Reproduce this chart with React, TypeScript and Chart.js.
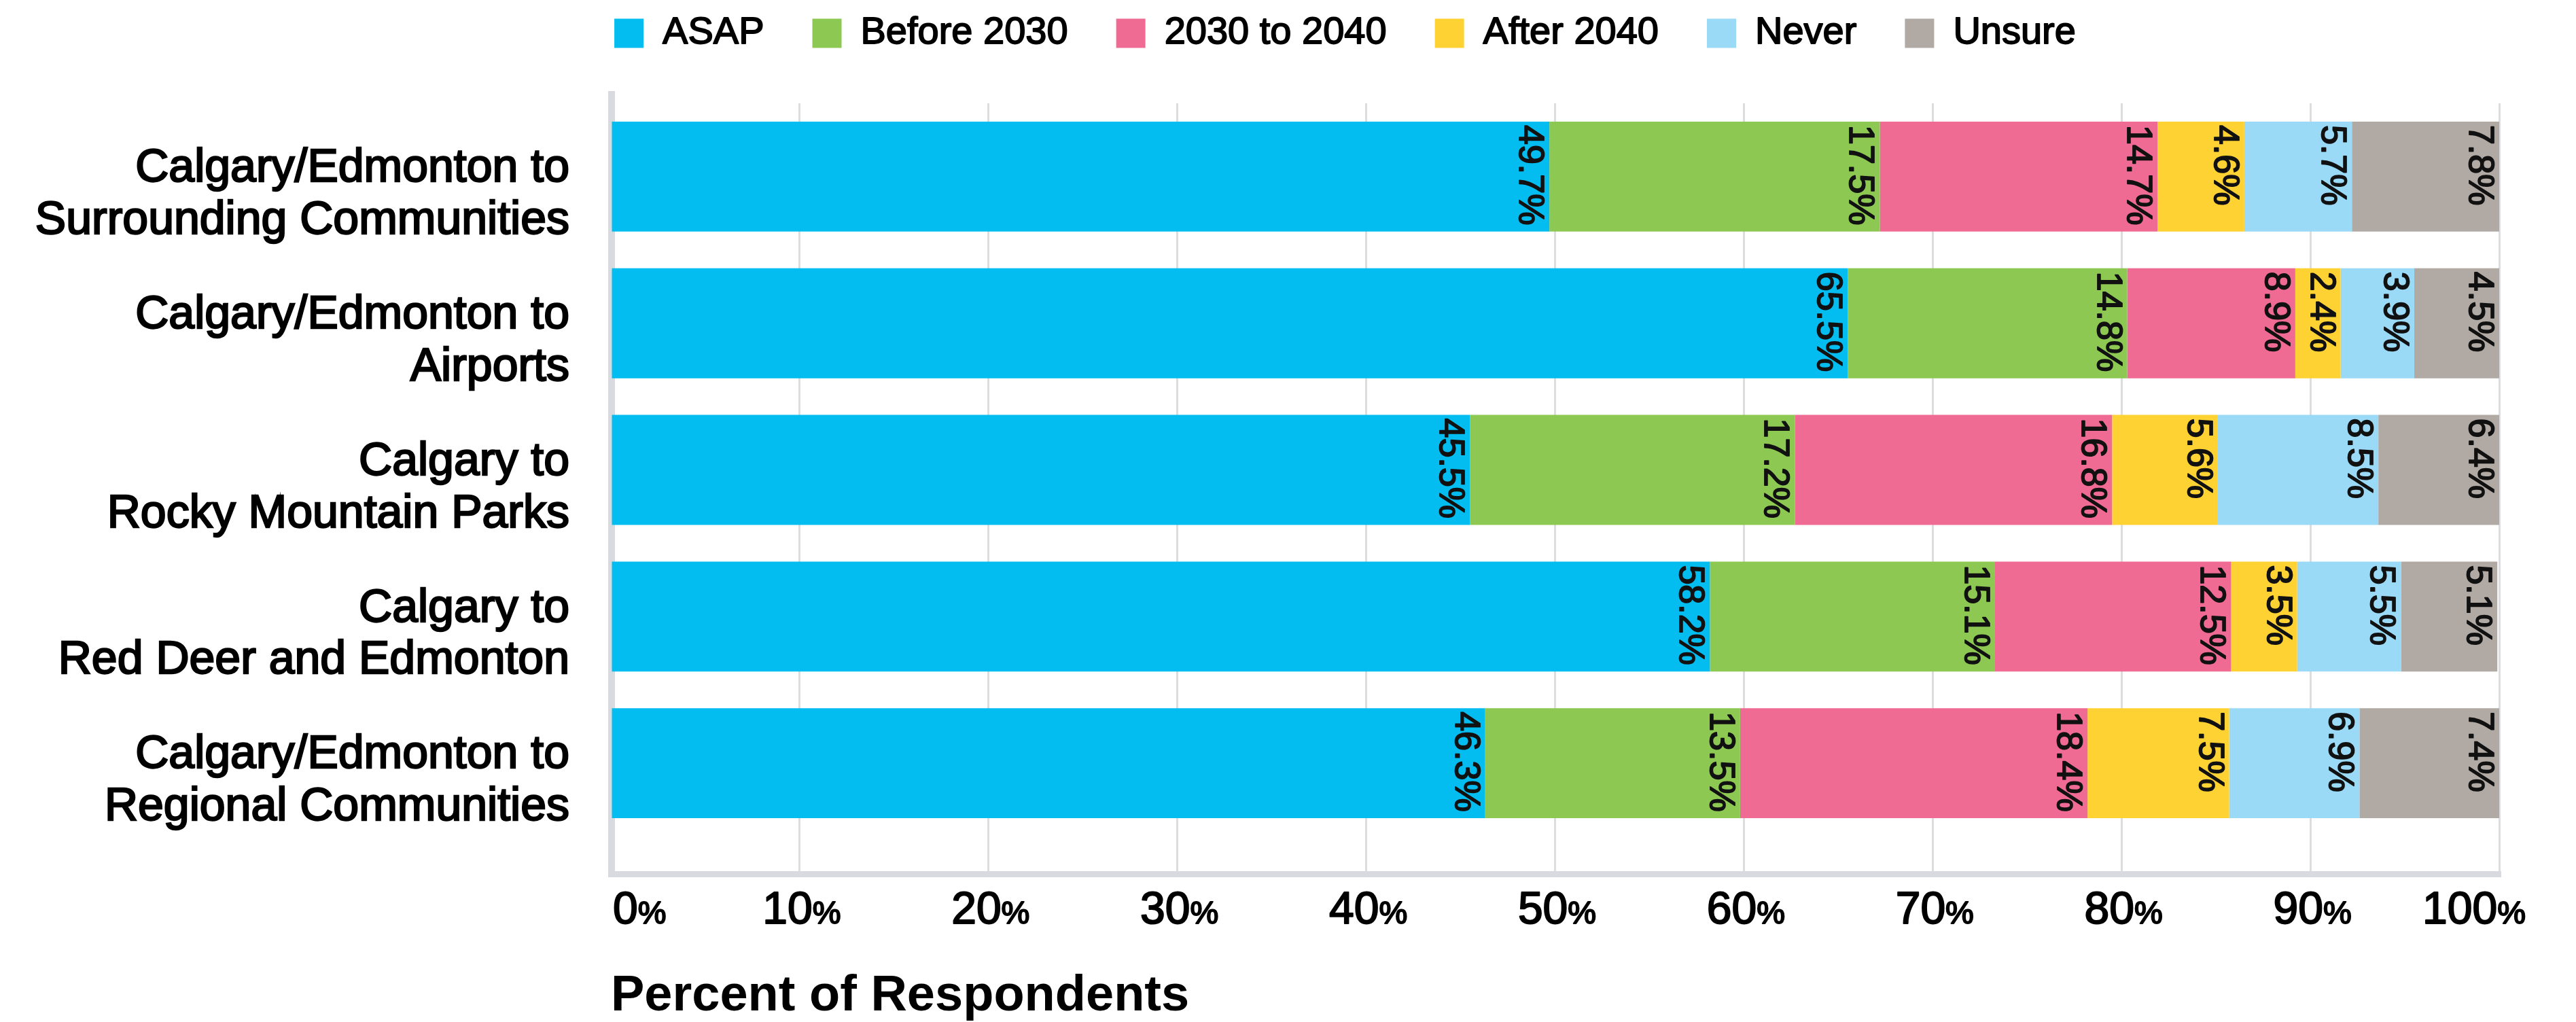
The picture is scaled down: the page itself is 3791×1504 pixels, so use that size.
import React, { useEffect, useRef } from 'react';
import { Chart, registerables } from 'chart.js';

Chart.register(...registerables);

// ---------- data ----------
const CATEGORIES: string[][] = [
  ['Calgary/Edmonton to', 'Surrounding Communities'],
  ['Calgary/Edmonton to', 'Airports'],
  ['Calgary to', 'Rocky Mountain Parks'],
  ['Calgary to', 'Red Deer and Edmonton'],
  ['Calgary/Edmonton to', 'Regional Communities'],
];
const SERIES_NAMES = ['ASAP', 'Before 2030', '2030 to 2040', 'After 2040', 'Never', 'Unsure'];
const ASAP = [49.7, 65.5, 45.5, 58.2, 46.3];
const BEFORE_2030 = [17.5, 14.8, 17.2, 15.1, 13.5];
const FROM_2030_TO_2040 = [14.7, 8.9, 16.8, 12.5, 18.4];
const AFTER_2040 = [4.6, 2.4, 5.6, 3.5, 7.5];
const NEVER = [5.7, 3.9, 8.5, 5.5, 6.9];
const UNSURE = [7.8, 4.5, 6.4, 5.1, 7.4];
const X_TICKS = [0, 10, 20, 30, 40, 50, 60, 70, 80, 90, 100];
const AXIS_TITLE = 'Percent of Respondents';

// ---------- styles ----------
const COLORS = ['#03BDF1', '#8DC852', '#F06B93', '#FFD234', '#9ADAF6', '#B1A9A4'];
const FONT = '"Liberation Sans", Arial, sans-serif';
const GRID = '#DCDCE1';
const AXIS = '#D9DADF';
const W = 3791;
const H = 1504;

const SERIES = [ASAP, BEFORE_2030, FROM_2030_TO_2040, AFTER_2040, NEVER, UNSURE];

// legend: fixed height + slightly heavier text (medium weight look)
const legendPatchPlugin = {
  id: 'legendPatch',
  beforeLayout(chart: any) {
    const lg: any = chart.legend;
    if (lg && !lg._patched) {
      const origFit = lg.fit;
      lg.fit = function () {
        origFit.call(this);
        this.height = 202;
      };
      const origDraw = lg.draw;
      lg.draw = function (...args: any[]) {
        const ctx = this.ctx;
        const origFill = ctx.fillText;
        ctx.fillText = function (t: string, x: number, y: number, mw?: number) {
          const lw = ctx.lineWidth;
          const ss = ctx.strokeStyle;
          ctx.lineWidth = 1.8;
          ctx.strokeStyle = ctx.fillStyle;
          ctx.lineJoin = 'round';
          if (mw !== undefined) ctx.strokeText(t, x, y, mw);
          else ctx.strokeText(t, x, y);
          ctx.lineWidth = lw;
          ctx.strokeStyle = ss;
          return mw !== undefined ? origFill.call(ctx, t, x, y, mw) : origFill.call(ctx, t, x, y);
        };
        try {
          origDraw.apply(this, args);
        } finally {
          ctx.fillText = origFill;
        }
      };
      lg._patched = true;
    }
  },
};

const axisLinesPlugin = {
  id: 'axisLines',
  beforeDatasetsDraw(chart: any) {
    const { ctx, chartArea } = chart;
    ctx.save();
    ctx.fillStyle = AXIS;
    ctx.fillRect(chartArea.left - 4, chartArea.top - 18, 10, chartArea.bottom + 60 - (chartArea.top - 18));
    ctx.fillRect(chartArea.left - 4, chartArea.bottom + 51, chartArea.right - chartArea.left + 7, 9);
    ctx.restore();
  },
};

const xTickPlugin = {
  id: 'xTickLabels',
  afterDraw(chart: any) {
    const { ctx, chartArea } = chart;
    const xs = chart.scales.x;
    const baseY = chartArea.bottom + 128;
    ctx.save();
    ctx.fillStyle = '#000';
    ctx.strokeStyle = '#000';
    ctx.lineWidth = 2;
    ctx.lineJoin = 'round';
    ctx.textBaseline = 'alphabetic';
    ctx.textAlign = 'left';
    const last = X_TICKS.length - 1;
    X_TICKS.forEach((v, i) => {
      const px = xs.getPixelForValue(v);
      const num = String(v);
      ctx.font = `66px ${FONT}`;
      const wNum = ctx.measureText(num).width;
      ctx.font = `47px ${FONT}`;
      const wPct = ctx.measureText('%').width;
      const total = wNum + wPct;
      let left: number;
      if (i === 0) left = px + 3;
      else if (i === last) left = px + 39 - total;
      else left = px + 3 - total / 2;
      ctx.font = `66px ${FONT}`;
      ctx.strokeText(num, left, baseY);
      ctx.fillText(num, left, baseY);
      ctx.font = `47px ${FONT}`;
      ctx.strokeText('%', left + wNum, baseY);
      ctx.fillText('%', left + wNum, baseY);
    });
    ctx.restore();
  },
};

const dataLabelPlugin = {
  id: 'segmentLabels',
  afterDatasetsDraw(chart: any) {
    const { ctx } = chart;
    ctx.save();
    ctx.font = `52px ${FONT}`;
    ctx.fillStyle = '#111';
    ctx.strokeStyle = '#111';
    ctx.lineWidth = 1.8;
    ctx.lineJoin = 'round';
    ctx.textAlign = 'left';
    ctx.textBaseline = 'alphabetic';
    chart.data.datasets.forEach((ds: any, di: number) => {
      const meta = chart.getDatasetMeta(di);
      meta.data.forEach((bar: any, j: number) => {
        const { x, y, height } = bar.getProps(['x', 'y', 'height'], true);
        const top = y - height / 2;
        const text = Number(ds.data[j]).toFixed(1) + '%';
        ctx.save();
        ctx.translate(x - 44, top + 5);
        ctx.rotate(Math.PI / 2);
        ctx.strokeText(text, 0, 0);
        ctx.fillText(text, 0, 0);
        ctx.restore();
      });
    });
    ctx.restore();
  },
};

export default function App() {
  const ref = useRef<HTMLCanvasElement | null>(null);

  useEffect(() => {
    document.body.style.margin = '0';
    document.body.style.overflow = 'hidden';
    const canvas = ref.current;
    if (!canvas) return;
    const chart = new Chart(canvas, {
      type: 'bar',
      data: {
        labels: CATEGORIES,
        datasets: SERIES_NAMES.map((name, i) => ({
          label: name,
          data: SERIES[i],
          backgroundColor: COLORS[i],
          borderWidth: 0,
          barPercentage: 0.75,
          categoryPercentage: 1,
        })),
      },
      options: {
        indexAxis: 'y',
        responsive: false,
        animation: false,
        devicePixelRatio: 1,
        layout: { padding: { top: -50, left: 281, right: 113, bottom: 0 } },
        plugins: {
          legend: {
            position: 'top',
            align: 'center',
            labels: {
              boxWidth: 43,
              boxHeight: 43,
              padding: 71,
              color: '#000',
              font: { family: FONT, size: 56 },
            },
          },
          tooltip: { enabled: false },
        },
        scales: {
          x: {
            type: 'linear',
            stacked: true,
            min: 0,
            max: 100,
            ticks: { stepSize: 10, display: false },
            grid: { color: GRID, lineWidth: 3, drawTicks: true, tickLength: 51, tickColor: GRID },
            border: { display: false },
            title: {
              display: true,
              text: AXIS_TITLE,
              align: 'start',
              color: '#000',
              font: { family: FONT, size: 74, weight: 'bold', lineHeight: 1 },
              padding: { top: 0, bottom: 0 },
            },
            afterFit: (scale: any) => {
              scale.height = 273;
            },
          },
          y: {
            type: 'category',
            stacked: true,
            grid: { display: false, drawTicks: false },
            border: { display: false },
            ticks: {
              color: '#000',
              padding: 61,
              labelOffset: 27,
              font: { family: FONT, size: 68, lineHeight: 1.13 },
              textStrokeColor: '#000',
              textStrokeWidth: 2.4,
            },
            afterFit: (scale: any) => {
              scale.width = 618;
              scale._computeLabelArea = () => undefined;
            },
          },
        },
      },
      plugins: [legendPatchPlugin, axisLinesPlugin, dataLabelPlugin, xTickPlugin],
    } as any);
    return () => chart.destroy();
  }, []);

  return (
    <div style={{ width: W, height: H, position: 'relative' }}>
      <canvas ref={ref} width={W} height={H} style={{ display: 'block', width: W, height: H }} />
    </div>
  );
}
